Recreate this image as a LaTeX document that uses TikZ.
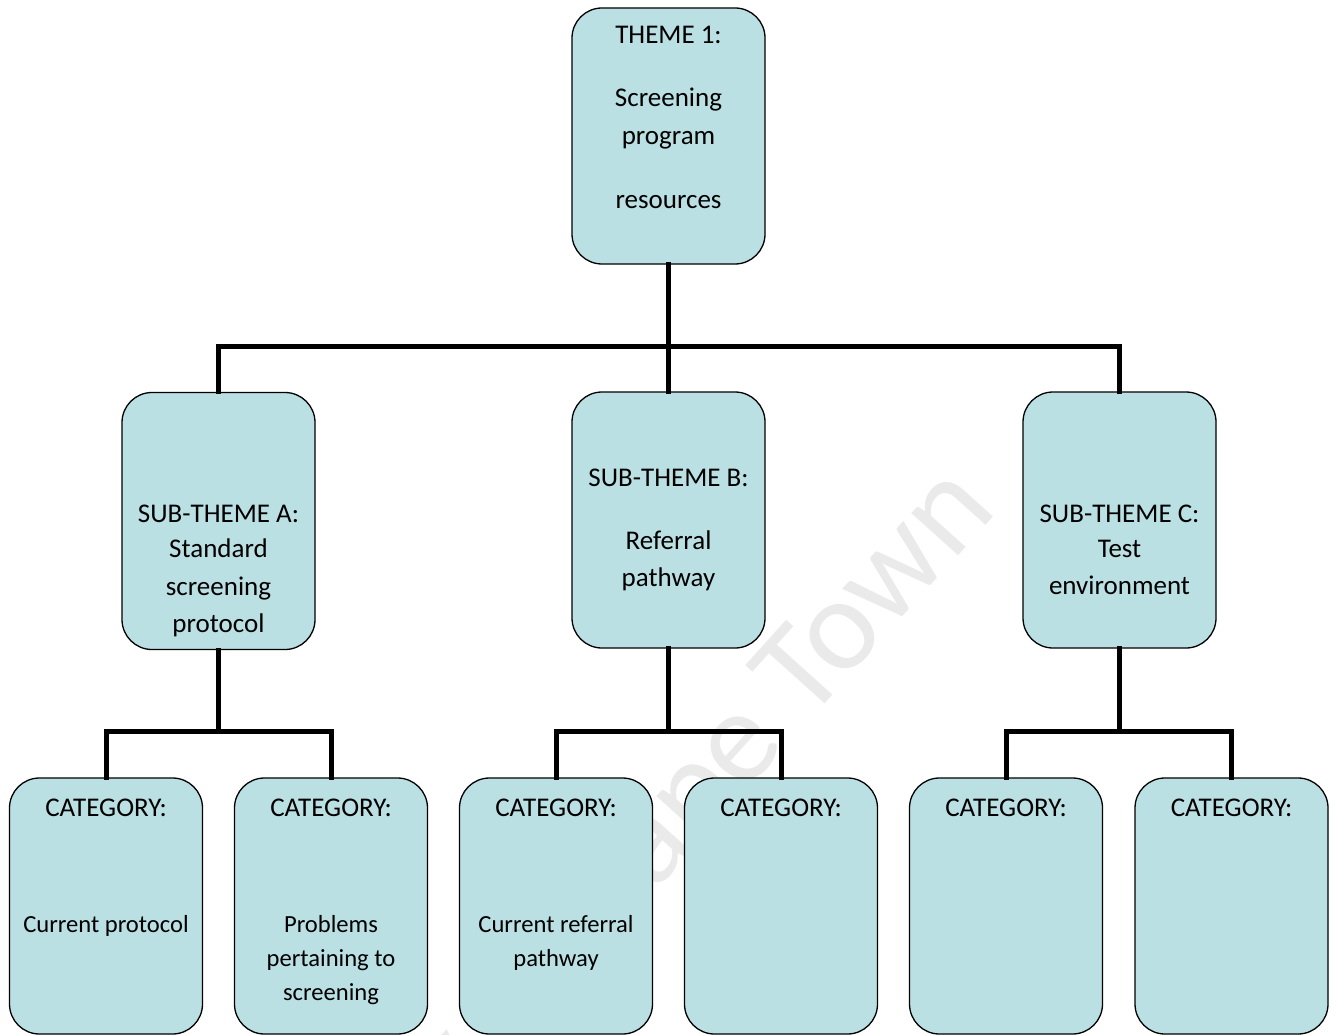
\documentclass[tikz,border=0pt]{standalone}
\usepackage{fontspec}
\setmainfont{Carlito}
\definecolor{boxfill}{RGB}{186,224,227}
\definecolor{wm}{RGB}{234,234,234}
\begin{document}
\begin{tikzpicture}[x=1pt,y=-1pt,
  box/.style={draw=black,line width=1.3pt,fill=boxfill,rounded corners=30pt,
    minimum width=193pt,minimum height=256pt,inner sep=0pt},
  txt/.style={anchor=base,font=\fontsize{27}{32}\selectfont,inner sep=0pt},
  small/.style={anchor=base,font=\fontsize{24.6}{30}\selectfont,inner sep=0pt},
  conn/.style={line width=5pt,line join=miter,line cap=rect}]
\useasboundingbox (0,0) rectangle (1338,1035);
% watermark
\node[anchor=east,rotate=48,text=wm,font=\fontsize{132}{132}\selectfont] (wmk) at (975,485) {University of Cape Town};
% boxes
\node[box] (th) at (668.5,136) {};
\node[box,minimum height=257pt] (sa) at (218.5,521) {};
\node[box] (sb) at (668.5,520) {};
\node[box] (sc) at (1119.5,520) {};
\node[box] (c1) at (106,906) {};
\node[box] (c2) at (331,906) {};
\node[box] (c3) at (556,906) {};
\node[box] (c4) at (781,906) {};
\node[box] (c5) at (1006,906) {};
\node[box] (c6) at (1231.5,906) {};
% junctions
\coordinate (j0) at (668.5,346);
\coordinate (ja) at (218.5,731);
\coordinate (jb) at (668.5,731);
\coordinate (jc) at (1119.5,731);
% connectors
\draw[conn] (th.south) -- (sb.north);
\draw[conn] (sa.north) -- (sa.north |- j0) -- (sc.north |- j0) -- (sc.north);
\draw[conn] (sa.south) -- (ja);
\draw[conn] (c1.north) -- (c1.north |- ja) -- (c2.north |- ja) -- (c2.north);
\draw[conn] (sb.south) -- (jb);
\draw[conn] (c3.north) -- (c3.north |- jb) -- (c4.north |- jb) -- (c4.north);
\draw[conn] (sc.south) -- (jc);
\draw[conn] (c5.north) -- (c5.north |- jc) -- (c6.north |- jc) -- (c6.north);
% texts
\node[txt] (t0a) at (668.5,44) {THEME 1:};
\node[txt] (t0b) at (668.5,107) {Screening};
\node[txt] (t0c) at (668.5,145) {program};
\node[txt] (t0d) at (668.5,208) {resources};
\node[txt] (tAa) at (218.5,522) {SUB-THEME A:};
\node[txt] (tAb) at (218.5,557) {Standard};
\node[txt] (tAc) at (218.5,595) {screening};
\node[txt] (tAd) at (218.5,632) {protocol};
\node[txt] (tBa) at (668.5,486) {SUB-THEME B:};
\node[txt] (tBb) at (668.5,549) {Referral};
\node[txt] (tBc) at (668.5,586) {pathway};
\node[txt] (tCa) at (1119.5,522) {SUB-THEME C:};
\node[txt] (tCb) at (1119.5,557) {Test};
\node[txt] (tCc) at (1119.5,594) {environment};
\node[txt] (k1) at (106,816) {CATEGORY:};
\node[txt] (k2) at (331,816) {CATEGORY:};
\node[txt] (k3) at (556,816) {CATEGORY:};
\node[txt] (k4) at (781,816) {CATEGORY:};
\node[txt] (k5) at (1006,816) {CATEGORY:};
\node[txt] (k6) at (1231.5,816) {CATEGORY:};
\node[small] (k1a) at (106,932) {Current protocol};
\node[small] (k2a) at (331,932) {Problems};
\node[small] (k2b) at (331,966) {pertaining to};
\node[small] (k2c) at (331,1000) {screening};
\node[small] (k3a) at (556,932) {Current referral};
\node[small] (k3b) at (556,966) {pathway};
\end{tikzpicture}
\end{document}
